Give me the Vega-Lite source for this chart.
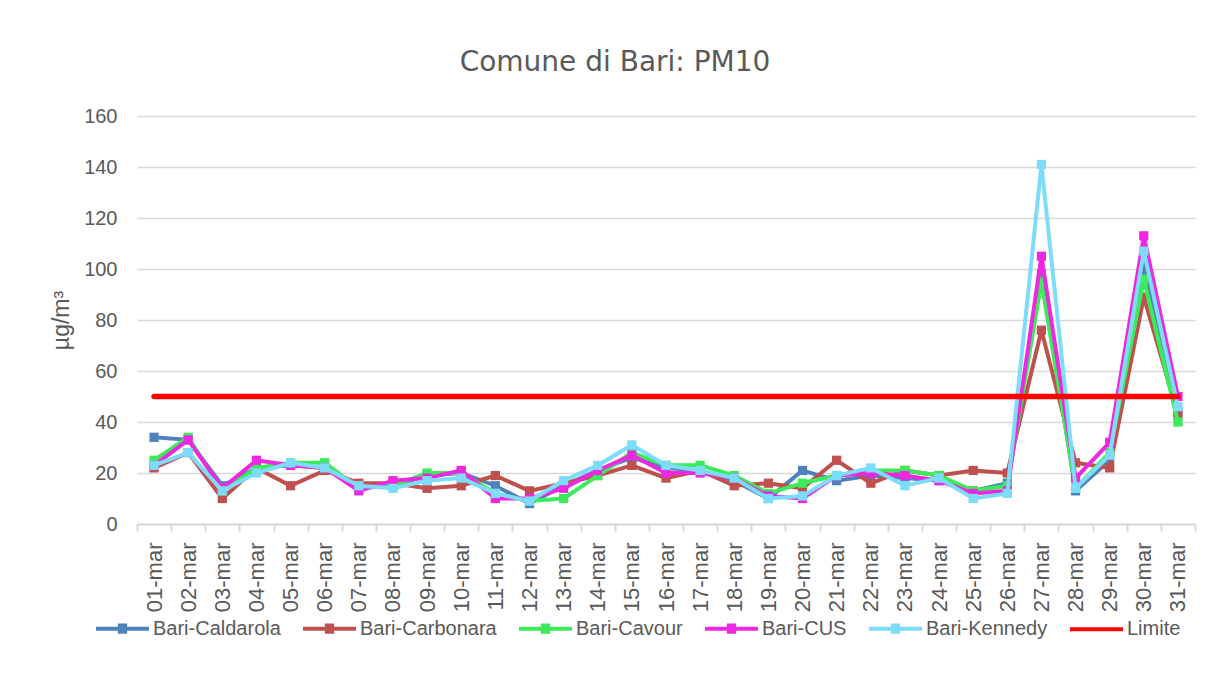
{
  "$schema": "https://vega.github.io/schema/vega-lite/v6.json",
  "width": 1058,
  "height": 408,
  "autosize": {"type": "none"},
  "padding": {"left": 137, "top": 116, "right": 13, "bottom": 162},
  "background": "white",
  "title": {"text": "Comune di Bari: PM10", "font": "DejaVu Sans", "fontSize": 28, "fontWeight": "normal", "color": "#595959", "anchor": "middle", "dx": -51, "offset": 29},
  "config": {"view": {"stroke": null}, "font": "Liberation Sans"},
  "data": {"values": [
    {"d": "01-mar", "s": "Bari-Caldarola", "v": 34}, {"d": "01-mar", "s": "Bari-Carbonara", "v": 22}, {"d": "01-mar", "s": "Bari-Cavour", "v": 25}, {"d": "01-mar", "s": "Bari-CUS", "v": 23}, {"d": "01-mar", "s": "Bari-Kennedy", "v": 23}, {"d": "01-mar", "s": "Limite", "v": 50},
    {"d": "02-mar", "s": "Bari-Caldarola", "v": 33}, {"d": "02-mar", "s": "Bari-Carbonara", "v": 28}, {"d": "02-mar", "s": "Bari-Cavour", "v": 34}, {"d": "02-mar", "s": "Bari-CUS", "v": 33}, {"d": "02-mar", "s": "Bari-Kennedy", "v": 28}, {"d": "02-mar", "s": "Limite", "v": 50},
    {"d": "03-mar", "s": "Bari-Caldarola", "v": 15}, {"d": "03-mar", "s": "Bari-Carbonara", "v": 10}, {"d": "03-mar", "s": "Bari-Cavour", "v": 13}, {"d": "03-mar", "s": "Bari-CUS", "v": 14}, {"d": "03-mar", "s": "Bari-Kennedy", "v": 13}, {"d": "03-mar", "s": "Limite", "v": 50},
    {"d": "04-mar", "s": "Bari-Caldarola", "v": 22}, {"d": "04-mar", "s": "Bari-Carbonara", "v": 22}, {"d": "04-mar", "s": "Bari-Cavour", "v": 22}, {"d": "04-mar", "s": "Bari-CUS", "v": 25}, {"d": "04-mar", "s": "Bari-Kennedy", "v": 20}, {"d": "04-mar", "s": "Limite", "v": 50},
    {"d": "05-mar", "s": "Bari-Caldarola", "v": 23}, {"d": "05-mar", "s": "Bari-Carbonara", "v": 15}, {"d": "05-mar", "s": "Bari-Cavour", "v": 24}, {"d": "05-mar", "s": "Bari-CUS", "v": 23}, {"d": "05-mar", "s": "Bari-Kennedy", "v": 24}, {"d": "05-mar", "s": "Limite", "v": 50},
    {"d": "06-mar", "s": "Bari-Caldarola", "v": 22}, {"d": "06-mar", "s": "Bari-Carbonara", "v": 21}, {"d": "06-mar", "s": "Bari-Cavour", "v": 24}, {"d": "06-mar", "s": "Bari-CUS", "v": 22}, {"d": "06-mar", "s": "Bari-Kennedy", "v": 22}, {"d": "06-mar", "s": "Limite", "v": 50},
    {"d": "07-mar", "s": "Bari-Caldarola", "v": 15}, {"d": "07-mar", "s": "Bari-Carbonara", "v": 16}, {"d": "07-mar", "s": "Bari-Cavour", "v": 14}, {"d": "07-mar", "s": "Bari-CUS", "v": 13}, {"d": "07-mar", "s": "Bari-Kennedy", "v": 15}, {"d": "07-mar", "s": "Limite", "v": 50},
    {"d": "08-mar", "s": "Bari-Caldarola", "v": 15}, {"d": "08-mar", "s": "Bari-Carbonara", "v": 16}, {"d": "08-mar", "s": "Bari-Cavour", "v": 15}, {"d": "08-mar", "s": "Bari-CUS", "v": 17}, {"d": "08-mar", "s": "Bari-Kennedy", "v": 14}, {"d": "08-mar", "s": "Limite", "v": 50},
    {"d": "09-mar", "s": "Bari-Caldarola", "v": 19}, {"d": "09-mar", "s": "Bari-Carbonara", "v": 14}, {"d": "09-mar", "s": "Bari-Cavour", "v": 20}, {"d": "09-mar", "s": "Bari-CUS", "v": 18}, {"d": "09-mar", "s": "Bari-Kennedy", "v": 17}, {"d": "09-mar", "s": "Limite", "v": 50},
    {"d": "10-mar", "s": "Bari-Caldarola", "v": 20}, {"d": "10-mar", "s": "Bari-Carbonara", "v": 15}, {"d": "10-mar", "s": "Bari-Cavour", "v": 20}, {"d": "10-mar", "s": "Bari-CUS", "v": 21}, {"d": "10-mar", "s": "Bari-Kennedy", "v": 18}, {"d": "10-mar", "s": "Limite", "v": 50},
    {"d": "11-mar", "s": "Bari-Caldarola", "v": 15}, {"d": "11-mar", "s": "Bari-Carbonara", "v": 19}, {"d": "11-mar", "s": "Bari-Cavour", "v": 12}, {"d": "11-mar", "s": "Bari-CUS", "v": 10}, {"d": "11-mar", "s": "Bari-Kennedy", "v": 12}, {"d": "11-mar", "s": "Limite", "v": 50},
    {"d": "12-mar", "s": "Bari-Caldarola", "v": 8}, {"d": "12-mar", "s": "Bari-Carbonara", "v": 13}, {"d": "12-mar", "s": "Bari-Cavour", "v": 9}, {"d": "12-mar", "s": "Bari-CUS", "v": 10}, {"d": "12-mar", "s": "Bari-Kennedy", "v": 9}, {"d": "12-mar", "s": "Limite", "v": 50},
    {"d": "13-mar", "s": "Bari-Caldarola", "v": 15}, {"d": "13-mar", "s": "Bari-Carbonara", "v": 16}, {"d": "13-mar", "s": "Bari-Cavour", "v": 10}, {"d": "13-mar", "s": "Bari-CUS", "v": 14}, {"d": "13-mar", "s": "Bari-Kennedy", "v": 17}, {"d": "13-mar", "s": "Limite", "v": 50},
    {"d": "14-mar", "s": "Bari-Caldarola", "v": 21}, {"d": "14-mar", "s": "Bari-Carbonara", "v": 19}, {"d": "14-mar", "s": "Bari-Cavour", "v": 19}, {"d": "14-mar", "s": "Bari-CUS", "v": 21}, {"d": "14-mar", "s": "Bari-Kennedy", "v": 23}, {"d": "14-mar", "s": "Limite", "v": 50},
    {"d": "15-mar", "s": "Bari-Caldarola", "v": 26}, {"d": "15-mar", "s": "Bari-Carbonara", "v": 23}, {"d": "15-mar", "s": "Bari-Cavour", "v": 28}, {"d": "15-mar", "s": "Bari-CUS", "v": 27}, {"d": "15-mar", "s": "Bari-Kennedy", "v": 31}, {"d": "15-mar", "s": "Limite", "v": 50},
    {"d": "16-mar", "s": "Bari-Caldarola", "v": 22}, {"d": "16-mar", "s": "Bari-Carbonara", "v": 18}, {"d": "16-mar", "s": "Bari-Cavour", "v": 23}, {"d": "16-mar", "s": "Bari-CUS", "v": 20}, {"d": "16-mar", "s": "Bari-Kennedy", "v": 23}, {"d": "16-mar", "s": "Limite", "v": 50},
    {"d": "17-mar", "s": "Bari-Caldarola", "v": 21}, {"d": "17-mar", "s": "Bari-Carbonara", "v": 21}, {"d": "17-mar", "s": "Bari-Cavour", "v": 23}, {"d": "17-mar", "s": "Bari-CUS", "v": 20}, {"d": "17-mar", "s": "Bari-Kennedy", "v": 21}, {"d": "17-mar", "s": "Limite", "v": 50},
    {"d": "18-mar", "s": "Bari-Caldarola", "v": 17}, {"d": "18-mar", "s": "Bari-Carbonara", "v": 15}, {"d": "18-mar", "s": "Bari-Cavour", "v": 19}, {"d": "18-mar", "s": "Bari-CUS", "v": 18}, {"d": "18-mar", "s": "Bari-Kennedy", "v": 18}, {"d": "18-mar", "s": "Limite", "v": 50},
    {"d": "19-mar", "s": "Bari-Caldarola", "v": 10}, {"d": "19-mar", "s": "Bari-Carbonara", "v": 16}, {"d": "19-mar", "s": "Bari-Cavour", "v": 12}, {"d": "19-mar", "s": "Bari-CUS", "v": 11}, {"d": "19-mar", "s": "Bari-Kennedy", "v": 10}, {"d": "19-mar", "s": "Limite", "v": 50},
    {"d": "20-mar", "s": "Bari-Caldarola", "v": 21}, {"d": "20-mar", "s": "Bari-Carbonara", "v": 14}, {"d": "20-mar", "s": "Bari-Cavour", "v": 16}, {"d": "20-mar", "s": "Bari-CUS", "v": 10}, {"d": "20-mar", "s": "Bari-Kennedy", "v": 11}, {"d": "20-mar", "s": "Limite", "v": 50},
    {"d": "21-mar", "s": "Bari-Caldarola", "v": 17}, {"d": "21-mar", "s": "Bari-Carbonara", "v": 25}, {"d": "21-mar", "s": "Bari-Cavour", "v": 19}, {"d": "21-mar", "s": "Bari-CUS", "v": 19}, {"d": "21-mar", "s": "Bari-Kennedy", "v": 19}, {"d": "21-mar", "s": "Limite", "v": 50},
    {"d": "22-mar", "s": "Bari-Caldarola", "v": 19}, {"d": "22-mar", "s": "Bari-Carbonara", "v": 16}, {"d": "22-mar", "s": "Bari-Cavour", "v": 21}, {"d": "22-mar", "s": "Bari-CUS", "v": 20}, {"d": "22-mar", "s": "Bari-Kennedy", "v": 22}, {"d": "22-mar", "s": "Limite", "v": 50},
    {"d": "23-mar", "s": "Bari-Caldarola", "v": 18}, {"d": "23-mar", "s": "Bari-Carbonara", "v": 21}, {"d": "23-mar", "s": "Bari-Cavour", "v": 21}, {"d": "23-mar", "s": "Bari-CUS", "v": 19}, {"d": "23-mar", "s": "Bari-Kennedy", "v": 15}, {"d": "23-mar", "s": "Limite", "v": 50},
    {"d": "24-mar", "s": "Bari-Caldarola", "v": 17}, {"d": "24-mar", "s": "Bari-Carbonara", "v": 19}, {"d": "24-mar", "s": "Bari-Cavour", "v": 19}, {"d": "24-mar", "s": "Bari-CUS", "v": 17}, {"d": "24-mar", "s": "Bari-Kennedy", "v": 18}, {"d": "24-mar", "s": "Limite", "v": 50},
    {"d": "25-mar", "s": "Bari-Caldarola", "v": 13}, {"d": "25-mar", "s": "Bari-Carbonara", "v": 21}, {"d": "25-mar", "s": "Bari-Cavour", "v": 13}, {"d": "25-mar", "s": "Bari-CUS", "v": 12}, {"d": "25-mar", "s": "Bari-Kennedy", "v": 10}, {"d": "25-mar", "s": "Limite", "v": 50},
    {"d": "26-mar", "s": "Bari-Caldarola", "v": 16}, {"d": "26-mar", "s": "Bari-Carbonara", "v": 20}, {"d": "26-mar", "s": "Bari-Cavour", "v": 15}, {"d": "26-mar", "s": "Bari-CUS", "v": 13}, {"d": "26-mar", "s": "Bari-Kennedy", "v": 12}, {"d": "26-mar", "s": "Limite", "v": 50},
    {"d": "27-mar", "s": "Bari-Caldarola", "v": 98}, {"d": "27-mar", "s": "Bari-Carbonara", "v": 76}, {"d": "27-mar", "s": "Bari-Cavour", "v": 95}, {"d": "27-mar", "s": "Bari-CUS", "v": 105}, {"d": "27-mar", "s": "Bari-Kennedy", "v": 141}, {"d": "27-mar", "s": "Limite", "v": 50},
    {"d": "28-mar", "s": "Bari-Caldarola", "v": 13}, {"d": "28-mar", "s": "Bari-Carbonara", "v": 24}, {"d": "28-mar", "s": "Bari-Cavour", "v": 14}, {"d": "28-mar", "s": "Bari-CUS", "v": 18}, {"d": "28-mar", "s": "Bari-Kennedy", "v": 14}, {"d": "28-mar", "s": "Limite", "v": 50},
    {"d": "29-mar", "s": "Bari-Caldarola", "v": 25}, {"d": "29-mar", "s": "Bari-Carbonara", "v": 22}, {"d": "29-mar", "s": "Bari-Cavour", "v": 28}, {"d": "29-mar", "s": "Bari-CUS", "v": 32}, {"d": "29-mar", "s": "Bari-Kennedy", "v": 27}, {"d": "29-mar", "s": "Limite", "v": 50},
    {"d": "30-mar", "s": "Bari-Caldarola", "v": 101}, {"d": "30-mar", "s": "Bari-Carbonara", "v": 89}, {"d": "30-mar", "s": "Bari-Cavour", "v": 96}, {"d": "30-mar", "s": "Bari-CUS", "v": 113}, {"d": "30-mar", "s": "Bari-Kennedy", "v": 107}, {"d": "30-mar", "s": "Limite", "v": 50},
    {"d": "31-mar", "s": "Bari-Caldarola", "v": 44}, {"d": "31-mar", "s": "Bari-Carbonara", "v": 43}, {"d": "31-mar", "s": "Bari-Cavour", "v": 40}, {"d": "31-mar", "s": "Bari-CUS", "v": 50}, {"d": "31-mar", "s": "Bari-Kennedy", "v": 46}, {"d": "31-mar", "s": "Limite", "v": 50}
  ]},
  "encoding": {
    "x": {
      "field": "d", "type": "ordinal", "sort": null, "bandPosition": 0.5,
      "scale": {"type": "band", "paddingInner": 0, "paddingOuter": 0},
      "title": null,
      "axis": {"domainColor": "#d9d9d9", "domainWidth": 2, "tickColor": "#d9d9d9", "tickWidth": 2, "tickSize": 7, "tickBand": "extent", "labelAngle": -90, "labelFont": "Liberation Sans", "labelFontSize": 22, "labelColor": "#595959", "labelPadding": 11, "grid": false}
    },
    "y": {
      "field": "v", "type": "quantitative",
      "scale": {"domain": [0, 160], "nice": false},
      "title": "µg/m³",
      "axis": {"values": [0, 20, 40, 60, 80, 100, 120, 140, 160], "grid": true, "gridColor": "#d9d9d9", "gridWidth": 1.3, "domain": false, "ticks": false, "tickSize": 0, "labelFont": "Liberation Sans", "labelFontSize": 20, "labelColor": "#595959", "labelPadding": 20, "titleFont": "Liberation Sans", "titleFontSize": 23, "titleFontWeight": "normal", "titleColor": "#595959", "titlePadding": 10}
    },
    "color": {
      "field": "s", "type": "nominal",
      "scale": {"domain": ["Bari-Caldarola", "Bari-Carbonara", "Bari-Cavour", "Bari-CUS", "Bari-Kennedy", "Limite"], "range": ["#4F81BD", "#C0504D", "#3CEB5A", "#EE28E0", "#7DDCFA", "#FF0000"]},
      "legend": {
        "orient": "none", "legendX": -43, "legendY": 484, "direction": "horizontal", "title": null,
        "labelFont": "Liberation Sans", "labelFontSize": 20, "labelColor": "#595959",
        "symbolSize": 2809, "symbolStrokeWidth": 4, "labelOffset": 2, "columnPadding": 14,
        "symbolType": "M-1,0H1",
        "encode": {"symbols": {"update": {
          "shape": {"signal": "datum.value === 'Limite' ? 'M-1,0H1' : 'M-1,0H1M-0.1,-0.12H0.1V0.12H-0.1Z'"},
          "fill": {"signal": "scale('color', datum.value)"},
          "stroke": {"signal": "scale('color', datum.value)"},
          "opacity": {"value": 1}
        }}}
      }
    }
  },
  "layer": [
    {"transform": [{"filter": "datum.s === 'Bari-Caldarola'"}], "mark": {"type": "line", "strokeWidth": 4, "point": {"shape": "square", "size": 85, "filled": true, "opacity": 1}}},
    {"transform": [{"filter": "datum.s === 'Bari-Carbonara'"}], "mark": {"type": "line", "strokeWidth": 4, "point": {"shape": "square", "size": 85, "filled": true, "opacity": 1}}},
    {"transform": [{"filter": "datum.s === 'Bari-Cavour'"}], "mark": {"type": "line", "strokeWidth": 4, "point": {"shape": "square", "size": 85, "filled": true, "opacity": 1}}},
    {"transform": [{"filter": "datum.s === 'Bari-CUS'"}], "mark": {"type": "line", "strokeWidth": 4, "point": {"shape": "square", "size": 85, "filled": true, "opacity": 1}}},
    {"transform": [{"filter": "datum.s === 'Bari-Kennedy'"}], "mark": {"type": "line", "strokeWidth": 4, "point": {"shape": "square", "size": 85, "filled": true, "opacity": 1}}},
    {"transform": [{"filter": "datum.s === 'Limite'"}], "mark": {"type": "line", "strokeWidth": 5.5, "strokeCap": "round"}}
  ]
}
